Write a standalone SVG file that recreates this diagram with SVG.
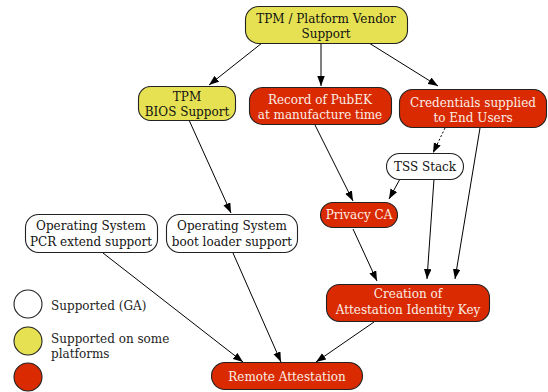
<svg xmlns="http://www.w3.org/2000/svg" width="548" height="392" viewBox="0 0 548 392">
<defs>
<marker id="arr" markerUnits="userSpaceOnUse" markerWidth="11" markerHeight="8" refX="10" refY="3.75" orient="auto">
<path d="M0,0 L10,3.75 L0,7.5 z" fill="#000"/>
</marker>
<style>
.n rect, .lg { stroke:#222; stroke-width:1.1; }
.w { fill:#ffffff; }
.y { fill:#e5e152; }
.r { fill:#d92a02; }
text { font-family:"DejaVu Serif","Liberation Serif",serif; font-size:12px; text-anchor:middle; fill:#111; }
.rt { fill:#fbeee6; }
.lt { text-anchor:start; fill:#222; }
.e line { stroke:#000; stroke-width:1; fill:none; marker-end:url(#arr); }
.e .d { stroke-dasharray:2,2; }
</style>
</defs>
<rect width="548" height="392" fill="#fff"/>
<g class="e" id="connectors">
<line x1="262" y1="43" x2="209" y2="85"/>
<line x1="321" y1="43" x2="321" y2="86"/>
<line x1="369" y1="43" x2="438" y2="86"/>
<line x1="189" y1="120" x2="231" y2="213"/>
<line x1="315" y1="125" x2="353" y2="201"/>
<line class="d" x1="445" y1="128" x2="433" y2="153"/>
<line x1="400" y1="179" x2="389" y2="199"/>
<line x1="434" y1="179" x2="427" y2="279"/>
<line x1="480" y1="128" x2="455" y2="279"/>
<line x1="353" y1="229" x2="377" y2="281"/>
<line x1="103" y1="253" x2="243" y2="362"/>
<line x1="233" y1="253" x2="281" y2="362"/>
<line x1="374" y1="322" x2="316" y2="362"/>
</g>
<g class="n" id="vendor"><rect class="y" x="245.5" y="6.5" width="162" height="37" rx="13"/><text x="326" y="23">TPM / Platform Vendor</text><text x="326" y="38">Support</text></g>
<g class="n" id="bios"><rect class="y" x="138.5" y="86.5" width="97" height="34" rx="12"/><text x="187" y="101">TPM</text><text x="187" y="116">BIOS Support</text></g>
<g class="n" id="pubek"><rect class="r" x="249.5" y="87.5" width="142" height="37" rx="13"/><text class="rt" x="320" y="104">Record of PubEK</text><text class="rt" x="320" y="119">at manufacture time</text></g>
<g class="n" id="creds"><rect class="r" x="399.5" y="89.5" width="147" height="38" rx="13"/><text class="rt" x="473" y="107">Credentials supplied</text><text class="rt" x="473" y="122">to End Users</text></g>
<g class="n" id="tss"><rect class="w" x="386.5" y="153.5" width="77" height="26" rx="13"/><text x="425" y="171">TSS Stack</text></g>
<g class="n" id="privacy"><rect class="r" x="320.5" y="202.5" width="77" height="25" rx="12.5"/><text class="rt" x="359" y="219">Privacy CA</text></g>
<g class="n" id="aik"><rect class="r" x="326.5" y="284.5" width="163" height="37" rx="13"/><text class="rt" x="408" y="298">Creation of</text><text class="rt" x="408" y="314">Attestation Identity Key</text></g>
<g class="n" id="pcr"><rect class="w" x="25.5" y="214.5" width="132" height="38" rx="13"/><text x="91" y="230">Operating System</text><text x="91" y="246">PCR extend support</text></g>
<g class="n" id="boot"><rect class="w" x="166.5" y="214.5" width="131" height="38" rx="13"/><text x="232" y="230">Operating System</text><text x="232" y="246">boot loader support</text></g>
<g class="n" id="remote"><rect class="r" x="211.5" y="362.5" width="151" height="27" rx="13.5"/><text class="rt" x="287" y="381">Remote Attestation</text></g>
<g id="legend">
<circle class="lg w" cx="28" cy="304" r="14"/>
<circle class="lg y" cx="28" cy="341" r="14"/>
<circle class="lg r" cx="28" cy="377" r="14"/>
<text class="lt" x="51" y="310">Supported (GA)</text>
<text class="lt" x="51" y="343">Supported on some</text>
<text class="lt" x="51" y="358">platforms</text>
</g>
</svg>
